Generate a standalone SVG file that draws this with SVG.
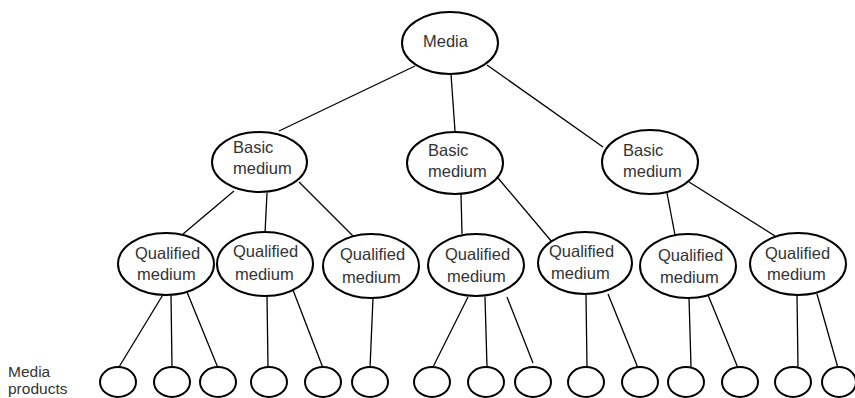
<svg xmlns="http://www.w3.org/2000/svg" width="855" height="398" viewBox="0 0 855 398">
<style>
.n{fill:#fff;stroke:#000;stroke-width:2}
.p{fill:#fff;stroke:#000;stroke-width:2}
.c line{stroke:#000;stroke-width:1.3}
text{font-family:"Liberation Sans",Arial,sans-serif;font-size:16.5px;fill:#333}
.lbl{font-size:15.5px}
</style>
<rect width="855" height="398" fill="#fff"/>
<g class="c" id="connectors">
<line x1="415" y1="66" x2="279" y2="131"/>
<line x1="451" y1="74" x2="455" y2="131"/>
<line x1="487" y1="65" x2="603" y2="147"/>
<line x1="234" y1="191" x2="183" y2="234"/>
<line x1="267" y1="193" x2="265" y2="233"/>
<line x1="299" y1="182" x2="353" y2="236"/>
<line x1="461" y1="194" x2="462" y2="234"/>
<line x1="498" y1="178" x2="552" y2="242"/>
<line x1="667" y1="193" x2="675" y2="235"/>
<line x1="689" y1="182" x2="775" y2="236"/>
<line x1="164" y1="293" x2="119" y2="367"/>
<line x1="171" y1="295" x2="172" y2="367"/>
<line x1="187" y1="292" x2="218" y2="368"/>
<line x1="267" y1="296" x2="268" y2="367"/>
<line x1="293" y1="290" x2="323" y2="368"/>
<line x1="373" y1="298" x2="370" y2="368"/>
<line x1="468" y1="297" x2="433" y2="367"/>
<line x1="485" y1="297" x2="487" y2="367"/>
<line x1="507" y1="297" x2="533" y2="363"/>
<line x1="586" y1="295" x2="587" y2="367"/>
<line x1="608" y1="294" x2="638" y2="368"/>
<line x1="689" y1="297" x2="691" y2="367"/>
<line x1="708" y1="295" x2="738" y2="368"/>
<line x1="797" y1="295" x2="798" y2="367"/>
<line x1="817" y1="294" x2="838" y2="368"/>
</g>
<g id="media"><ellipse class="n" cx="450" cy="43" rx="48" ry="31"/><text x="423" y="47">Media</text></g>
<g id="basic1"><ellipse class="n" cx="259.5" cy="162" rx="47.5" ry="30"/><text x="233" y="153">Basic</text><text x="233" y="174">medium</text></g>
<g id="basic2"><ellipse class="n" cx="455" cy="163" rx="48" ry="31"/><text x="428" y="156">Basic</text><text x="428" y="177">medium</text></g>
<g id="basic3"><ellipse class="n" cx="650" cy="162" rx="48" ry="32"/><text x="623" y="156">Basic</text><text x="623" y="177">medium</text></g>
<g id="q1"><ellipse class="n" cx="166" cy="264" rx="48" ry="31"/><text x="135" y="259">Qualified</text><text x="137" y="280">medium</text></g>
<g id="q2"><ellipse class="n" cx="265" cy="264" rx="48" ry="32"/><text x="233" y="257">Qualified</text><text x="235" y="280">medium</text></g>
<g id="q3"><ellipse class="n" cx="371" cy="266" rx="48" ry="32"/><text x="340" y="260">Qualified</text><text x="342" y="283">medium</text></g>
<g id="q4"><ellipse class="n" cx="476" cy="265" rx="48" ry="31"/><text x="445" y="260">Qualified</text><text x="447" y="282">medium</text></g>
<g id="q5"><ellipse class="n" cx="585" cy="263" rx="47" ry="31"/><text x="549" y="257">Qualified</text><text x="551" y="279">medium</text></g>
<g id="q6"><ellipse class="n" cx="688" cy="266" rx="48" ry="32"/><text x="658" y="261">Qualified</text><text x="660" y="283">medium</text></g>
<g id="q7"><ellipse class="n" cx="798" cy="264" rx="48" ry="31"/><text x="765" y="259">Qualified</text><text x="767" y="280">medium</text></g>
<g id="products-label"><text class="lbl" x="8" y="377">Media</text><text class="lbl" x="8" y="394">products</text></g>
<g id="p1"><ellipse class="p" cx="118" cy="382" rx="18" ry="15"/></g>
<g id="p2"><ellipse class="p" cx="172" cy="382" rx="18" ry="15"/></g>
<g id="p3"><ellipse class="p" cx="218" cy="382" rx="18" ry="15"/></g>
<g id="p4"><ellipse class="p" cx="269" cy="382" rx="18" ry="15"/></g>
<g id="p5"><ellipse class="p" cx="323" cy="382" rx="18" ry="15"/></g>
<g id="p6"><ellipse class="p" cx="370" cy="382" rx="18" ry="15"/></g>
<g id="p7"><ellipse class="p" cx="432" cy="382" rx="18" ry="15"/></g>
<g id="p8"><ellipse class="p" cx="486" cy="382" rx="18" ry="15"/></g>
<g id="p9"><ellipse class="p" cx="533" cy="382" rx="18" ry="15"/></g>
<g id="p10"><ellipse class="p" cx="586" cy="382" rx="18" ry="15"/></g>
<g id="p11"><ellipse class="p" cx="640" cy="382" rx="18" ry="15"/></g>
<g id="p12"><ellipse class="p" cx="686" cy="382" rx="18" ry="15"/></g>
<g id="p13"><ellipse class="p" cx="740" cy="382" rx="18" ry="15"/></g>
<g id="p14"><ellipse class="p" cx="793" cy="382" rx="18" ry="15"/></g>
<g id="p15"><ellipse class="p" cx="839" cy="382" rx="17" ry="15"/></g>
</svg>
